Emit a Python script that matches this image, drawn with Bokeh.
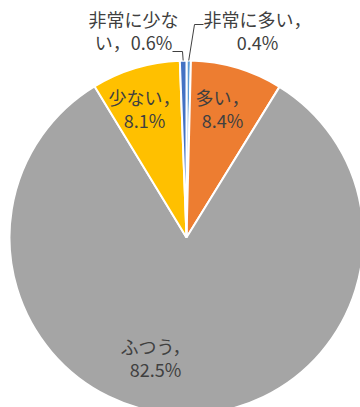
import math
from bokeh.plotting import figure
from bokeh.models import Range1d, ColumnDataSource
from bokeh.core.properties import value
from bokeh.embed import file_html
from bokeh.resources import INLINE

# ---- data ----
categories = ["非常に多い", "多い", "ふつう", "少ない", "非常に少ない"]
percents = [0.4, 8.4, 82.5, 8.1, 0.6]
colors = ["#5B9BD5", "#ED7D31", "#A5A5A5", "#FFC000", "#4472C4"]

# ---- layout (pixel coordinates, y from top) ----
W, H = 360, 407
CX, CY, R = 186, 237, 177
FONT = "Noto Sans CJK JP"
TEXT_COLOR = "#404040"

# label line texts and anchor (center x, first-line y) per category
label_lines = [
    ["非常に多い，", "0.4%"],
    ["多い，", "8.4%"],
    ["ふつう，", "82.5%"],
    ["少ない，", "8.1%"],
    ["非常に少な", "い，0.6%"],
]
label_pos = [(257, 18), (222, 96), (155, 345), (144, 96), (133, 18)]
line_gap = 23.5

p = figure(width=W, height=H, output_backend="svg", toolbar_location=None,
           x_range=Range1d(0, W), y_range=Range1d(0, H),
           min_border=0, background_fill_color="white", border_fill_color="white")
p.axis.visible = False
p.grid.visible = False
p.outline_line_color = None


def fy(y):
    return H - y


# wedges clockwise from 12 o'clock
total = sum(percents)
starts, ends, mids = [], [], []
acc = 0.0
for v in percents:
    a0 = math.pi / 2 - 2 * math.pi * acc / total
    acc += v
    a1 = math.pi / 2 - 2 * math.pi * acc / total
    starts.append(a0)
    ends.append(a1)
    mids.append((a0 + a1) / 2)

src = ColumnDataSource(dict(start=starts, end=ends, color=colors,
                            cat=categories))
p.wedge(x=CX, y=fy(CY), radius=R, start_angle="start", end_angle="end",
        direction="clock", fill_color="color", line_color="white",
        line_width=2, source=src)

# leader lines for tiny slices
def edge_point(i):
    a = mids[i]
    return CX + R * math.cos(a), fy(CY) + R * math.sin(a)

ex, ey = edge_point(0)
p.line([ex, 194, 203], [ey, fy(24), fy(24)], line_color="#404040", line_width=1)
ex, ey = edge_point(4)
p.line([ex, 182, 172], [ey, fy(51), fy(51)], line_color="#404040", line_width=1)

# labels
tx, ty, tt = [], [], []
for lines, (lx, ly) in zip(label_lines, label_pos):
    for k, t in enumerate(lines):
        tx.append(lx)
        ty.append(fy(ly + k * line_gap))
        tt.append(t)
p.text(x=tx, y=ty, text=tt, text_font=value(FONT), text_font_size="18px",
       text_color=TEXT_COLOR, text_align="center", text_baseline="middle")

open("out.html", "w").write(file_html(p, INLINE))
